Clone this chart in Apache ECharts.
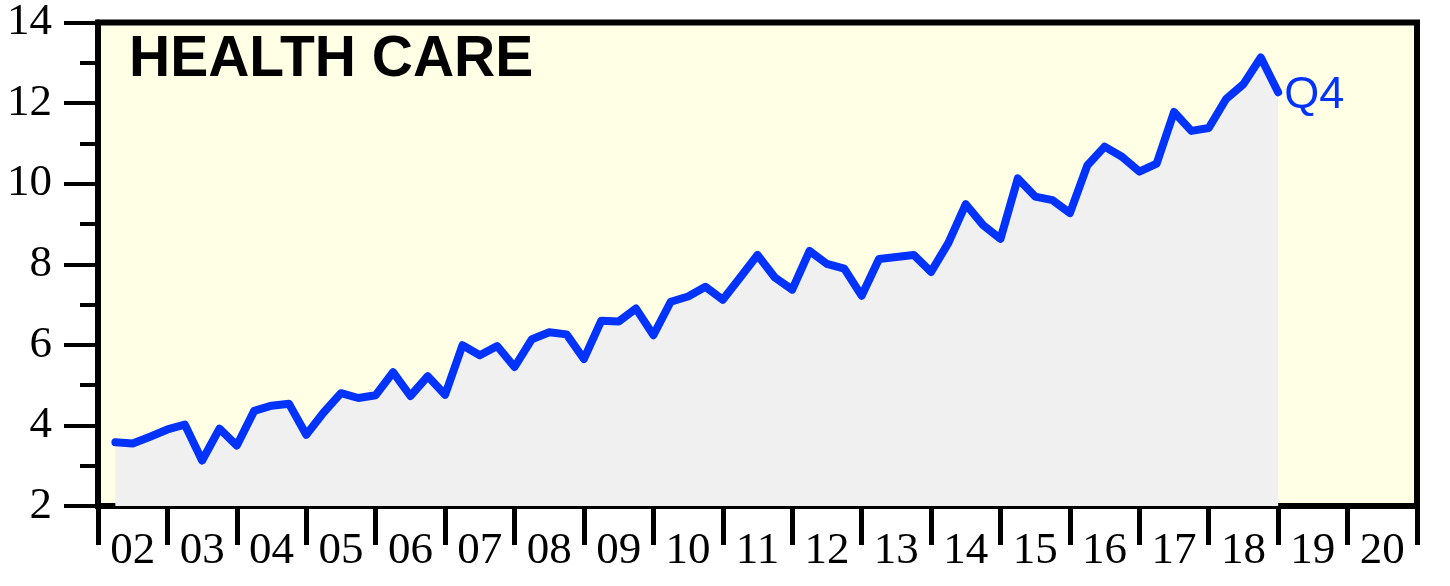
<!DOCTYPE html>
<html>
<head>
<meta charset="utf-8">
<script src="https://cdn.jsdelivr.net/npm/echarts@6/dist/echarts.min.js"></script>
<style>html,body{margin:0;padding:0;background:#fff;}#c{width:1450px;height:586px;}</style>
</head>
<body>
<div id="c"></div>
<script>
const yearLabels = ['02','03','04','05','06','07','08','09','10','11','12','13','14','15','16','17','18','19','20'];
const startYear = 2002;
const endYear = 2021;
const title = 'HEALTH CARE';
const lastLabel = 'Q4';
// quarterly values 2002Q1 .. 2018Q4
const values2002_2005 = [3.58,3.55,3.72,3.90, 4.02,3.13,3.92,3.50, 4.36,4.49,4.54,3.77, 4.32,4.80,4.68,4.75];
const values2006_2009 = [5.32,4.73,5.22,4.76, 5.99,5.74,5.97,5.45, 6.14,6.31,6.26,5.65, 6.60,6.58,6.90,6.24];
const values2010_2013 = [7.07,7.20,7.44,7.12, 7.67,8.23,7.67,7.37, 8.33,8.01,7.89,7.22, 8.13,8.18,8.23,7.81];
const values2014_2018 = [8.53,9.49,8.97,8.63, 10.13,9.68,9.59,9.27, 10.45,10.92,10.67,10.30, 10.50,11.78,11.31,11.38, 12.10,12.47,13.13,12.27];
const values = [].concat(values2002_2005, values2006_2009, values2010_2013, values2014_2018);
const yMin = 2, yMax = 14, yStep = 2;

const seriesData = values.map((v, i) => [startYear + (i + 1) / 4, v]);

const chart = echarts.init(document.getElementById('c'), null, {renderer: 'canvas'});
const serif = 'Liberation Serif';
chart.setOption({
  animation: false,
  backgroundColor: '#ffffff',
  grid: {left: 98, right: 33, top: 19, bottom: 80, show: true, backgroundColor: '#ffffe6', borderColor: '#000', borderWidth: 6},
  graphic: [{
    type: 'text', left: 129, top: 32,
    style: {text: title, font: 'bold 57px "Liberation Sans", Arial, sans-serif', fill: '#000'}
  }],
  xAxis: [
    {type: 'value', min: startYear, max: endYear, show: false},
    {type: 'category', data: yearLabels, boundaryGap: true, position: 'bottom',
     axisLine: {show: true, lineStyle: {color: '#000', width: 6}},
     axisTick: {show: true, interval: 0, length: 39, lineStyle: {color: '#000', width: 5}},
     axisLabel: {interval: 0, margin: 23, color: '#000', fontFamily: serif, fontSize: 45},
     splitLine: {show: false}}
  ],
  yAxis: {
    type: 'value', min: yMin, max: yMax, interval: yStep,
    axisLine: {show: true, lineStyle: {color: '#000', width: 6}},
    axisTick: {show: true, length: 34, lineStyle: {color: '#000', width: 4}},
    minorTick: {show: true, splitNumber: 2, length: 18, lineStyle: {color: '#000', width: 4}},
    axisLabel: {margin: 46, color: '#000', fontFamily: serif, fontSize: 45},
    splitLine: {show: false}
  },
  series: [{
    type: 'line', xAxisIndex: 0, data: seriesData, showSymbol: false, symbol: 'none',
    lineStyle: {color: '#0033ff', width: 8, join: 'round', cap: 'round'},
    areaStyle: {color: '#f0f0f0', opacity: 1, origin: 'start'},
    endLabel: {show: true, formatter: lastLabel, color: '#0033ff', fontFamily: '"Liberation Sans", Arial, sans-serif', fontSize: 45, distance: 6, offset: [0, 3]}
  }]
});
</script>
</body>
</html>
